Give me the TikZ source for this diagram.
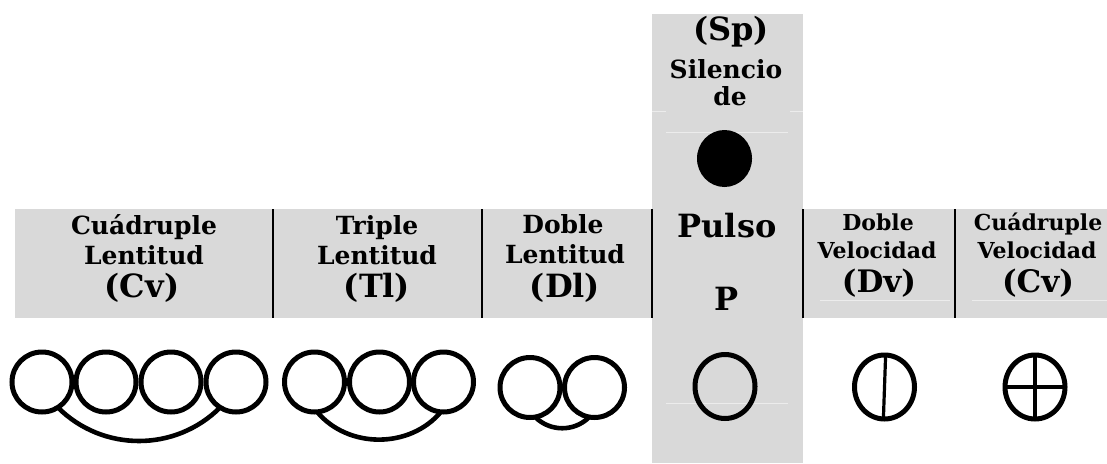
\documentclass[tikz,border=0pt]{standalone}
\usepackage{fontspec}
\setmainfont{DejaVu Serif}
\usetikzlibrary{shapes,positioning}
\definecolor{cellgray}{RGB}{217,217,217}
\definecolor{seam}{RGB}{236,236,236}

\begin{document}
\begin{tikzpicture}[x=1pt,y=-1pt,
  every node/.style={inner sep=0pt, outer sep=0pt},
  lbl/.style={anchor=base, font=\fontsize{25}{25}\selectfont\bfseries},
  big/.style={anchor=base, font=\fontsize{32}{32}\selectfont\bfseries},
  sml/.style={anchor=base, font=\fontsize{22}{22}\selectfont\bfseries},
  mid/.style={anchor=base, font=\fontsize{31}{31}\selectfont\bfseries},
  ring/.style={ellipse, draw, line width=5pt, minimum width=60pt, minimum height=60pt},
  bar/.style={line width=3.2pt},
  tie/.style={line width=4.6pt},
  rule/.style={line width=1.2pt},
  faint/.style={seam, line width=0.8pt}]
\useasboundingbox (0,0) rectangle (1107,463);

% Gray band and pulse column
\fill[cellgray] (15,209) rectangle (1107,318);
\fill[cellgray] (652,14) rectangle (803,463);
\draw[faint] (652,111) -- (666,111);
\draw[faint] (790,111) -- (803,111);
\draw[faint] (666,132) -- (788,132);
\draw[faint] (666,403) -- (788,403);
\draw[faint] (820,300) -- (950,300);
\draw[faint] (972,300) -- (1107,300);

% Cell borders left to right
\draw[rule] (273,209) -- (273,318);
\draw[rule] (482,209) -- (482,318);
\draw[rule] (652,209) -- (652,318);
\draw[rule] (803,209) -- (803,318);
\draw[rule] (955,209) -- (955,318);

% Silence of pulse
\node[big] (sp3) at (731,40) {(Sp)};
\node[lbl] (sp1) at (726,78) {Silencio};
\node[lbl] (sp2) at (730,105) {de};
\node[ellipse, fill=black, minimum width=55pt, minimum height=57pt] (rest) at (724.5,158.5) {};

% Labels left to right
\node[lbl] (cl1) at (144,234) {Cuádruple};
\node[lbl] (cl2) at (144,264) {Lentitud};
\node[big] (cl3) at (142,297) {(Cv)};

\node[lbl] (tl1) at (377,234) {Triple};
\node[lbl] (tl2) at (377,264) {Lentitud};
\node[big] (tl3) at (377,297) {(Tl)};

\node[lbl] (dl1) at (563,233) {Doble};
\node[lbl] (dl2) at (565,263) {Lentitud};
\node[big] (dl3) at (565,297) {(Dl)};

\node[big] (pu1) at (727,237) {Pulso};
\node[big] (pu2) at (727,310) {P};

\node[sml] (dv1) at (878,230) {Doble};
\node[sml] (dv2) at (877,258) {Velocidad};
\node[mid] (dv3) at (879,292) {(Dv)};

\node[sml] (cv1) at (1038,230) {Cuádruple};
\node[sml] (cv2) at (1037,258) {Velocidad};
\node[mid] (cv3) at (1038,292) {(Cv)};

% Quadruple slowness
\node[ring] (q1) at (42,382) {};
\node[ring] (q2) at (106,382) {};
\node[ring] (q3) at (171,382) {};
\node[ring] (q4) at (236,382) {};
\draw[tie] (q1.-58) to[out=-45,in=-135] (q4.-122);

% Triple slowness
\node[ring] (t1) at (314.5,382) {};
\node[ring] (t2) at (379.5,382) {};
\node[ring] (t3) at (443.5,382) {};
\draw[tie] (t1.-85) to[out=-50,in=-130] (t3.-95);

% Double slowness
\node[ring] (d1) at (530,387.5) {};
\node[ring] (d2) at (594.5,387.5) {};
\draw[tie] (d1.-80) to[out=-45,in=-135] (d2.-100);

% Pulse, double and quadruple speed
\node[ring, minimum height=64pt] (pu) at (725,386.5) {};
\node[ring, minimum height=64pt] (dv) at (884.5,387) {};
\draw[bar] (dv.88) -- (dv.-92);
\node[ring, minimum height=64pt] (cq) at (1035,387) {};
\draw[bar] (cq.north) -- (cq.south);
\draw[bar] (cq.west) -- (cq.east);
\end{tikzpicture}
\end{document}
